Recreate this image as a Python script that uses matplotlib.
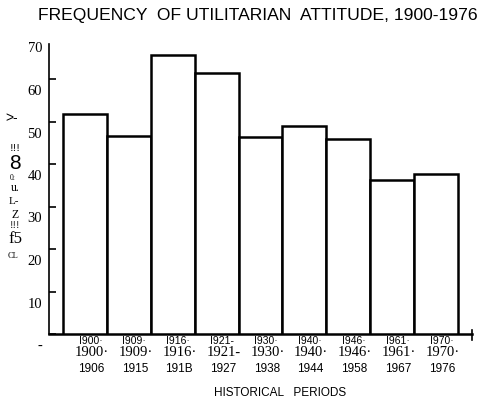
import matplotlib
matplotlib.use("Agg")
import matplotlib.pyplot as plt
from matplotlib.transforms import ScaledTranslation

# data
periods_top = ["1900·", "1909·", "1916·", "1921-", "1930·", "1940·", "1946·", "1961·", "1970·"]
periods_bottom = ["1906", "1915", "191B", "1927", "1938", "1944", "1958", "1967", "1976"]
cut_labels = ["I900·", "I909·", "I916·", "I921-", "I930·", "I940·", "I946·", "I961·", "I970·"]
frequency = [51.8, 46.7, 65.6, 61.3, 46.4, 49.0, 45.9, 36.2, 37.7]
yticks = [0, 10, 20, 30, 40, 50, 60, 70]
ytick_labels = ["-", "10", "20", "30", "40", "50", "60", "70"]

W, H = 479, 402
fig = plt.figure(figsize=(W / 100, H / 100), dpi=100)
ax = fig.add_axes([49 / W, 67 / H, (472 - 49) / W, (335 - 37.5) / H])

x = list(range(len(frequency)))
ax.bar(x, frequency, width=1.0, color="white", edgecolor="black", linewidth=1.8, zorder=3)

ax.set_xlim(-0.82, 8.82)
ax.set_ylim(0, 70)
for s in ["top", "right"]:
    ax.spines[s].set_visible(False)
ax.spines["left"].set_bounds(0, 68.2)
ax.spines["left"].set_linewidth(1.2)
ax.spines["bottom"].set_linewidth(1.8)
ax.axvline(8.82, ymin=-0.02, ymax=0.015, color="black", lw=1.2, clip_on=False)

ax.set_yticks(yticks)
ax.set_yticklabels(ytick_labels, family="Liberation Serif", fontsize=10.5)
ax.tick_params(axis="y", direction="in", length=5, width=1.2, pad=5)
ax.yaxis.get_major_ticks()[-1].tick1line.set_visible(False)
shift = ScaledTranslation(0, -0.1, fig.dpi_scale_trans)
for lab in ax.get_yticklabels():
    lab.set_transform(lab.get_transform() + shift)

ax.set_xticks([])

# period labels: a squashed duplicate row, then serif and sans rows
for i in x:
    ax.annotate(cut_labels[i], xy=(i, 0), xycoords=("data", "axes fraction"),
                xytext=(4, -4.0), textcoords="offset points", ha="center", va="center",
                family="Liberation Sans", fontsize=7.5)
    ax.annotate(periods_top[i], xy=(i, 0), xycoords=("data", "axes fraction"),
                xytext=(5, -12.6), textcoords="offset points", ha="center", va="center",
                family="Liberation Serif", fontsize=10.5)
    ax.annotate(periods_bottom[i], xy=(i, 0), xycoords=("data", "axes fraction"),
                xytext=(4.5, -24.3), textcoords="offset points", ha="center", va="center",
                family="Liberation Sans", fontsize=8.5)

fig.text(280 / W, 1 - 393 / H, "HISTORICAL   PERIODS", ha="center", va="center",
         family="Liberation Sans", fontsize=8.5)
fig.text(258 / W, 1 - 15.5 / H, "FREQUENCY  OF UTILITARIAN  ATTITUDE, 1900-1976",
         ha="center", va="center", family="Liberation Sans", fontsize=12.6)

# garbled, scanned y-axis caption
ylab_bits = [(">-", 12, 118, "Liberation Sans", 10),
             ("!!!", 15, 149, "Liberation Serif", 8),
             ("8", 15, 164, "Liberation Sans", 15),
             ("0:", 13, 178, "Liberation Serif", 5.5),
             ("u.", 15, 188, "Liberation Serif", 8.5),
             ("L-", 14, 202, "Liberation Serif", 8),
             ("Z", 15, 215, "Liberation Serif", 8.5),
             ("!!!", 15, 226, "Liberation Serif", 7.5),
             ("f5", 15, 239, "Liberation Serif", 12),
             ("CL", 13, 256, "Liberation Serif", 6)]
for t, px, py, fam, fs in ylab_bits:
    fig.text(px / W, 1 - py / H, t, ha="center", va="center", family=fam, fontsize=fs)

fig.savefig("out.png", dpi=100)
